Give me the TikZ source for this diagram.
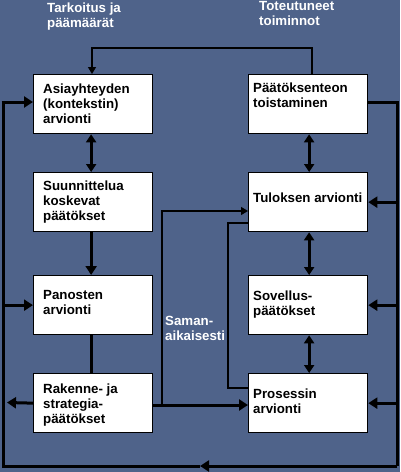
\documentclass[tikz,border=0pt]{standalone}
\usepackage{fontspec}
\setmainfont{Liberation Sans}
\usetikzlibrary{arrows.meta,calc}
\definecolor{bgblue}{RGB}{79,99,138}
\begin{document}
\begin{tikzpicture}[x=1pt,y=-1pt,line join=miter,
  box/.style={draw=black,line width=1.3pt,fill=white,anchor=north west,minimum width=119pt,minimum height=59pt,inner sep=0pt},
  txt/.style={anchor=base west,inner sep=0pt,align=left,font=\fontsize{13.3}{15}\selectfont\bfseries},
  wtxt/.style={txt,text=white},
  thk/.style={line width=3pt},
  thn/.style={line width=1.4pt},
  tipk/.style={-{Triangle[length=9pt,width=11pt]}},
  dtipk/.style={{Triangle[length=8pt,width=10pt]}-{Triangle[length=8pt,width=10pt]}},
  tipn/.style={-{Triangle[length=7pt,width=8pt]}}
]
\fill[bgblue] (0,0) rectangle (400,472);
\useasboundingbox (0,0) rectangle (400,472);

% boxes
\node[box] (b1) at (33,74) {};
\node[box] (b2) at (33,172) {};
\node[box] (b3) at (33,275) {};
\node[box] (b4) at (33,373) {};
\node[box] (b5) at (248,74) {};
\node[box] (b6) at (248,172) {};
\node[box] (b7) at (248,275) {};
\node[box] (b8) at (248,373) {};

% box texts (anchored at the baseline of the last line)
\node[txt] (t1) at (43,123) {Asiayhteyden\\(kontekstin)\\arvionti};
\node[txt] (t2) at (43,220) {Suunnittelua\\koskevat\\päätökset};
\node[txt] (t3) at (43,314) {Panosten\\arvionti};
\node[txt] (t4) at (43,423) {Rakenne- ja\\strategia-\\päätökset};
\node[txt] (t5) at (253,107) {Päätöksenteon\\toistaminen};
\node[txt] (t6) at (253,202) {Tuloksen arvionti};
\node[txt] (t7) at (253,315) {Sovellus-\\päätökset};
\node[txt] (t8) at (253,413) {Prosessin\\arvionti};

% free labels
\node[wtxt] (l1) at (47,27) {Tarkoitus ja\\päämäärät};
\node[wtxt] (l2) at (259,25) {Toteutuneet\\toiminnot};
\node[wtxt] (l3) at (165,340) {Saman-\\aikaisesti};

% frame coordinates
\coordinate (fTL) at (3,102);
\coordinate (fTR) at (397,102);
\coordinate (fBR) at (397,466);
\coordinate (fBL) at (3,466);
\coordinate (fBM) at (200,466);
\coordinate (lout) at (7,402.5);

% outer loop
\draw[thk] (b5.east |- fTR) -- (fTR) -- (fBR);
\draw[thk,tipk] (fBR) -- (fBM);
\draw[thk] (fBM) -- (fBL) -- (fTL);
\draw[thk,tipk] ([xshift=-1.5pt]fTL) -- (b1.west |- fTL);
\draw[thk,tipk] (fTL |- b3.west) -- (b3.west);
\draw[thk,tipk] (fTR |- b6.east) -- (b6.east);
\draw[thk,tipk] (fTR |- b7.east) -- (b7.east);
\draw[thk,tipk] (fTR |- b8.east) -- (b8.east);
\draw[thk,tipk] (b4.west) -- (lout);

% top feedback
\draw[thn,tipn] ($(b5.north)+(4,0)$) |- (92,48) -- (b1.north -| 92,0);

% vertical links
\draw[thk,dtipk] ([xshift=-2pt]b1.south) -- ([xshift=-2pt]b2.north);
\draw[thk,tipk] ([xshift=-2pt]b2.south) -- ([xshift=-2pt]b3.north);
\draw[thk] ([xshift=-2pt]b3.south) -- ([xshift=-2pt]b4.north);
\draw[thk,dtipk] ([xshift=1pt]b5.south) -- ([xshift=1pt]b6.north);
\draw[thk,dtipk] ([xshift=1pt]b6.south) -- ([xshift=1pt]b7.north);
\draw[thk,dtipk] ([xshift=1pt]b7.south) -- ([xshift=1pt]b8.north);

% horizontal links
\coordinate (br) at (162,405);
\draw[thk,tipk] (b4.east |- br) -- (b8.west |- br);
\draw[thn,tipn] (br) |- (b6.west |- 0,211);
\draw[thn] (b6.west |- 0,223) -| (228,388) -- (b8.west |- 0,388);
\end{tikzpicture}
\end{document}
